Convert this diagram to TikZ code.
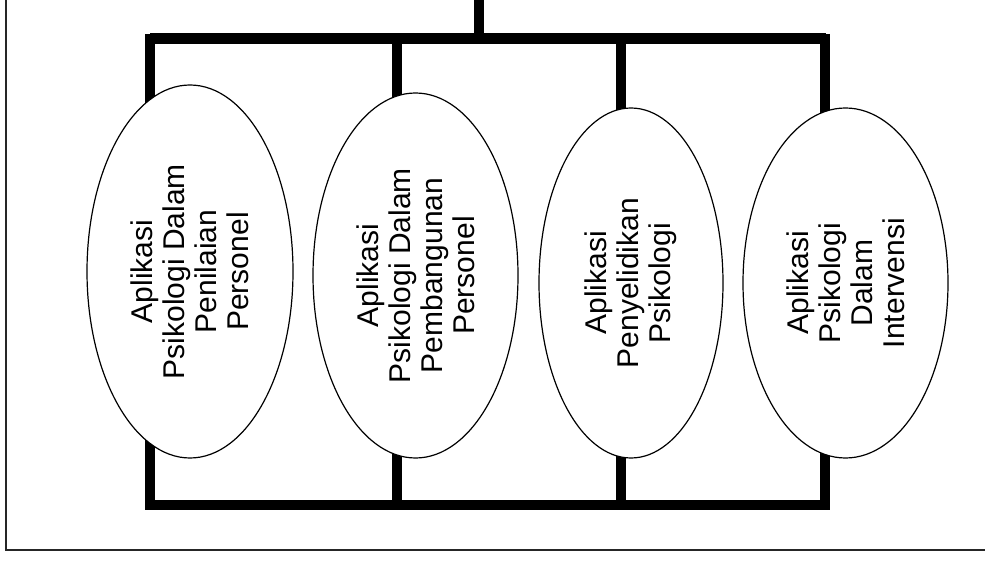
\documentclass[tikz,border=0pt]{standalone}
\usepackage{fontspec}
\setmainfont{Liberation Sans}
\usetikzlibrary{shapes.geometric}
\tikzset{
  bar/.style={line width=11pt, line cap=butt},
  oval/.style={ellipse, draw, line width=1.2pt, fill=white, inner sep=0pt, rotate=90,
    align=center, font={\fontsize{30}{32}\selectfont}},
  frame/.style={line width=1.8pt, draw=black!85}
}
\begin{document}
\begin{tikzpicture}[x=1pt,y=1pt]
\useasboundingbox (0,0) rectangle (985,560);
% frame (only left and bottom visible)
\coordinate (ftl) at (6,561);
\coordinate (fbl) at (6,10);
\coordinate (fbr) at (986,10);
\draw[frame] (ftl) -- (fbl) -- (fbr);
% tree connectors
\coordinate (top) at (479,561);
\coordinate (hub) at (479,521);
\coordinate (tl) at (150,521);
\coordinate (tr) at (826,521);
\coordinate (bl) at (150,55);
\coordinate (br) at (826,55);
\coordinate (t1) at (150,521); \coordinate (b1) at (150,55);
\coordinate (t2) at (397,521); \coordinate (b2) at (397,55);
\coordinate (t3) at (621,521); \coordinate (b3) at (621,55);
\coordinate (t4) at (825,521); \coordinate (b4) at (825,55);
\draw[bar, line width=10pt] (top) -- ([yshift=-5pt]hub);
\draw[bar] (tl) -- (tr);
\draw[bar, line width=10pt] (bl) -- (br);
\draw[bar, line width=10pt] ([yshift=5pt]t1) -- ([yshift=-5pt]b1);
\draw[bar, line width=10pt] ([yshift=5pt]t2) -- ([yshift=-5pt]b2);
\draw[bar, line width=10pt] ([yshift=5pt]t3) -- ([yshift=-5pt]b3);
\draw[bar, line width=10pt] ([yshift=5pt]t4) -- ([yshift=-5pt]b4);
% ellipses
\node[oval, minimum width=373pt, minimum height=206pt] (e1) at (190,288.5)
  {Aplikasi\\Psikologi Dalam\\Penilaian\\Personel};
\node[oval, minimum width=365pt, minimum height=205pt] (e2) at (415.5,284.5)
  {Aplikasi\\Psikologi Dalam\\Pembangunan\\Personel};
\node[oval, minimum width=350pt, minimum height=184pt] (e3) at (631,277)
  {Aplikasi\\Penyelidikan\\Psikologi};
\node[oval, minimum width=350pt, minimum height=205pt] (e4) at (845.5,277)
  {Aplikasi\\Psikologi\\Dalam\\Intervensi};
\end{tikzpicture}
\end{document}
